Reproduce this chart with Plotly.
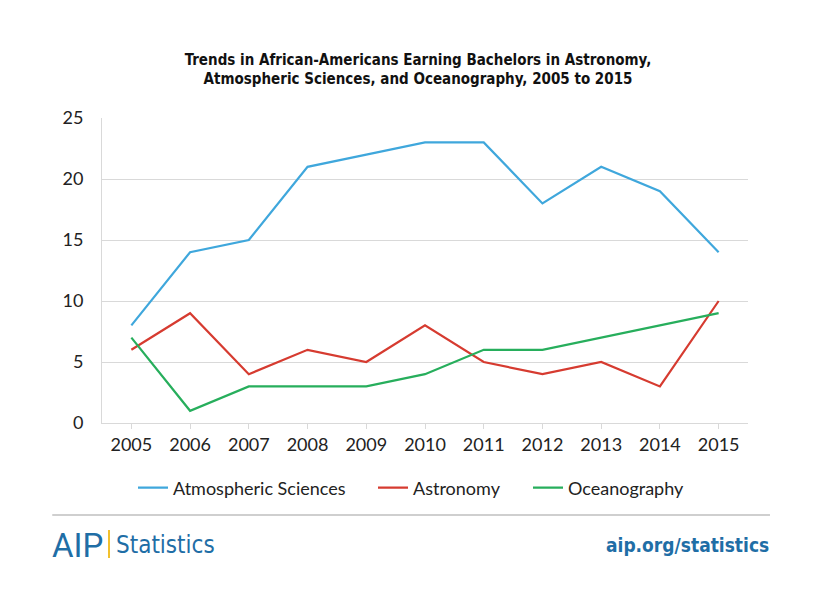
import plotly.graph_objects as go

years = ["2005", "2006", "2007", "2008", "2009", "2010", "2011", "2012", "2013", "2014", "2015"]
atmospheric = [8, 14, 15, 21, 22, 23, 23, 18, 21, 19, 14]
astronomy = [6, 9, 4, 6, 5, 8, 5, 4, 5, 3, 10]
oceanography = [7, 1, 3, 3, 3, 4, 6, 6, 7, 8, 9]
y_ticks = [0, 5, 10, 15, 20, 25]

series = [
    ("Atmospheric Sciences", atmospheric, "#3FA7DC", "legend", 133),
    ("Astronomy", astronomy, "#D63B30", "legend2", 373),
    ("Oceanography", oceanography, "#27AE5C", "legend3", 528),
]

fig = go.Figure()
for name, vals, color, leg, _ in series:
    fig.add_trace(go.Scatter(x=years, y=vals, name=name, mode="lines", legend=leg,
                             line=dict(color=color, width=2.2)))

tickfont = dict(family="Lato, Open Sans, sans-serif", size=18, color="#222")
cond = "DejaVu Sans Condensed, Liberation Sans Narrow, sans-serif"
legfont = dict(family="Lato, Open Sans, sans-serif", size=18, color="#222")

legends = {}
for name, vals, color, leg, px in series:
    legends[leg] = dict(orientation="h", x=(px - 102) / 646, xanchor="left",
                        y=-0.213, yanchor="middle", font=legfont,
                        bgcolor="rgba(0,0,0,0)")

fig.update_layout(
    width=820, height=595,
    margin=dict(l=94, r=80, t=110, b=180),
    paper_bgcolor="white", plot_bgcolor="white",
    title=dict(text="<b>Trends in African-Americans Earning Bachelors in Astronomy,<br>Atmospheric Sciences, and Oceanography, 2005 to 2015</b>",
               x=0.5, xanchor="center", y=0.905, yanchor="middle",
               font=dict(family=cond, size=15, color="#111")),
    xaxis=dict(type="category", range=[-0.5, 10.5], showgrid=False, showline=True,
               linecolor="#d9d9d9", linewidth=1, ticks="outside", ticklen=5,
               tickcolor="#d9d9d9", tickfont=tickfont, fixedrange=True),
    yaxis=dict(range=[0, 25], tickvals=y_ticks, showgrid=True, gridcolor="#d9d9d9",
               gridwidth=1, showline=True, linecolor="#d9d9d9", zeroline=False,
               ticks="", tickfont=tickfont, ticklabelstandoff=14),
    showlegend=True,
    **legends,
)

# footer separator
fig.add_shape(type="line", xref="paper", yref="paper", x0=-0.077, x1=1.034,
              y0=-0.3016, y1=-0.3016, line=dict(color="#cfcfcf", width=2))
# yellow bar in logo
fig.add_shape(type="line", xref="paper", yref="paper", x0=(109-102)/646, x1=(109-102)/646,
              y0=(423-530)/305, y1=(423-558)/305, line=dict(color="#F2C12E", width=2))

fig.add_annotation(text="AIP", xref="paper", yref="paper", x=(50-102)/646, y=(423-545)/305,
                   xanchor="left", yanchor="middle", showarrow=False,
                   font=dict(family="Roboto, sans-serif", size=33, color="#1F6EA6"))
fig.add_annotation(text="Statistics", xref="paper", yref="paper", x=(114-102)/646, y=(423-545)/305,
                   xanchor="left", yanchor="middle", showarrow=False,
                   font=dict(family=cond, size=24, color="#1F6EA6"))
fig.add_annotation(text="<b>aip.org/statistics</b>", xref="paper", yref="paper", x=(771-102)/646, y=(423-545)/305,
                   xanchor="right", yanchor="middle", showarrow=False,
                   font=dict(family=cond, size=19, color="#1F6EA6"))

fig.write_html("out.html")
